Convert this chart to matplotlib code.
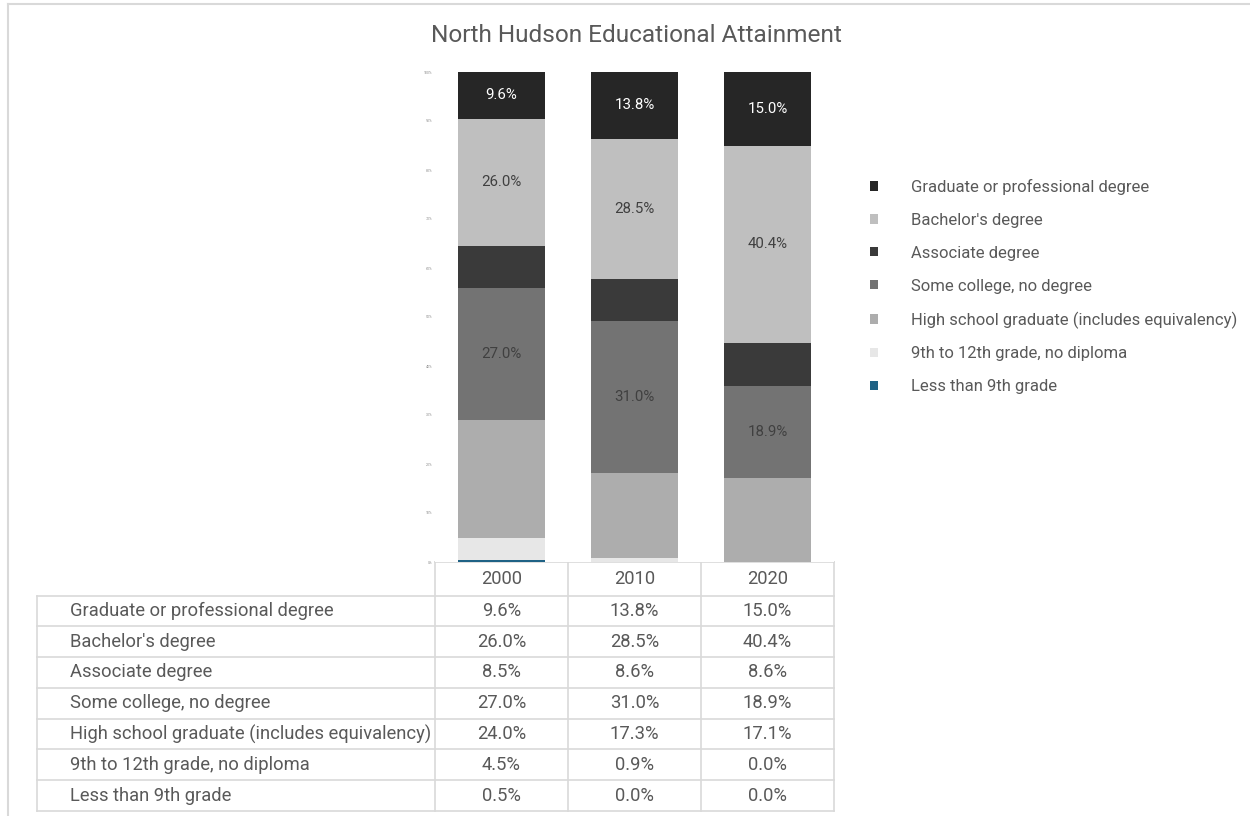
import matplotlib.pyplot as plt
from matplotlib.patches import Patch
import numpy as np

plt.rcParams["font.family"] = ["Roboto", "DejaVu Sans"]

# ---------------- Data ----------------

years = ["2000", "2010", "2020"]

levels = [
    "Graduate or professional degree",
    "Bachelor's degree",
    "Associate degree",
    "Some college, no degree",
    "High school graduate (includes equivalency)",
    "9th to 12th grade, no diploma",
    "Less than 9th grade",
]

graduate = [9.6, 13.8, 15.0]
bachelor = [26.0, 28.5, 40.4]
associate = [8.5, 8.6, 8.6]
some_college = [27.0, 31.0, 18.9]
high_school = [24.0, 17.3, 17.1]
grade_9_12 = [4.5, 0.9, 0.0]
less_9th = [0.5, 0.0, 0.0]

series = [graduate, bachelor, associate, some_college, high_school, grade_9_12, less_9th]
colors = ["#262626", "#bfbfbf", "#3a3a3a", "#737373", "#adadad", "#e7e7e7", "#1f6285"]
show_label = [True, True, False, True, False, False, False]
label_color = ["white", "#404040", None, "#404040", None, None, None]

W, H = 1250, 816
fig = plt.figure(figsize=(W / 100, H / 100), dpi=100)


def fx(px):
    return px / W


def fy(py):
    return 1 - py / H


# ---------------- Stacked bars ----------------

ax = fig.add_axes([fx(435), fy(562), fx(834) - fx(435), fy(72) - fy(562)])
x = np.arange(len(years))
bottom = np.zeros(len(years))

# draw from the bottom of the stack upwards
for i in reversed(range(len(levels))):
    vals = np.array(series[i])
    ax.bar(x, vals, 0.66, bottom=bottom, color=colors[i], label=levels[i])
    if show_label[i]:
        for xi, v, b in zip(x, vals, bottom):
            ax.text(xi, b + v / 2, f"{v:.1f}%", ha="center", va="center",
                    fontsize=10.8, color=label_color[i])
    bottom += vals

ax.set_xlim(-0.5, 2.5)
ax.set_ylim(0, 100)
ax.set_yticks(np.arange(0, 101, 10))
ax.set_yticklabels([f"{t}%" for t in range(0, 101, 10)])
ax.tick_params(axis="y", length=0, labelsize=2.5, labelcolor="#8a8a8a", pad=2)
ax.set_xticks([])
for s in ax.spines.values():
    s.set_visible(False)

fig.text(fx(636), fy(36), "North Hudson Educational Attainment", ha="center",
         va="center", fontsize=17.6, color="#595959")

# ---------------- Legend ----------------

handles = [Patch(facecolor=c, edgecolor="none") for c in colors]
fig.legend(handles, levels, loc="upper left", bbox_to_anchor=(fx(855), fy(164)),
           frameon=False, fontsize=12, labelcolor="#595959",
           handlelength=0.48, handleheight=0.48, handletextpad=1.98,
           labelspacing=1.07)

# ---------------- Data table ----------------

tab = fig.add_axes([0, 0, 1, 1], zorder=-1)
tab.set_xlim(0, W)
tab.set_ylim(H, 0)
tab.axis("off")

line_c = "#d9d9d9"
col_edges = [435, 568, 701, 834]
head_top, head_bot = 562, 595.5
row_h = (811 - head_bot) / len(levels)
row_edges = [head_bot + k * row_h for k in range(len(levels) + 1)]

# header cells
tab.plot([col_edges[0], col_edges[-1]], [head_top, head_top], color=line_c, lw=1.2)
for cx in col_edges:
    tab.plot([cx, cx], [head_top, row_edges[-1]], color=line_c, lw=1.2)
for j, yr in enumerate(years):
    tab.text((col_edges[j] + col_edges[j + 1]) / 2, (head_top + head_bot) / 2, yr,
             ha="center", va="center", fontsize=13.2, color="#595959")

# body rows
for ry in row_edges:
    tab.plot([37, col_edges[-1]], [ry, ry], color=line_c, lw=1.2)
tab.plot([37, 37], [row_edges[0], row_edges[-1]], color=line_c, lw=1.2)

for i, name in enumerate(levels):
    cy = (row_edges[i] + row_edges[i + 1]) / 2
    tab.text(70, cy, name, ha="left", va="center", fontsize=13.2, color="#595959")
    for j in range(len(years)):
        tab.text((col_edges[j] + col_edges[j + 1]) / 2, cy, f"{series[i][j]:.1f}%",
                 ha="center", va="center", fontsize=13.2, color="#595959")

# outer frame of the chart area (top and left edges visible)
tab.plot([8, W], [4, 4], color="#d9d9d9", lw=1.5)
tab.plot([8, 8], [4, H], color="#d9d9d9", lw=1.5)

plt.savefig("out.png", dpi=100)
